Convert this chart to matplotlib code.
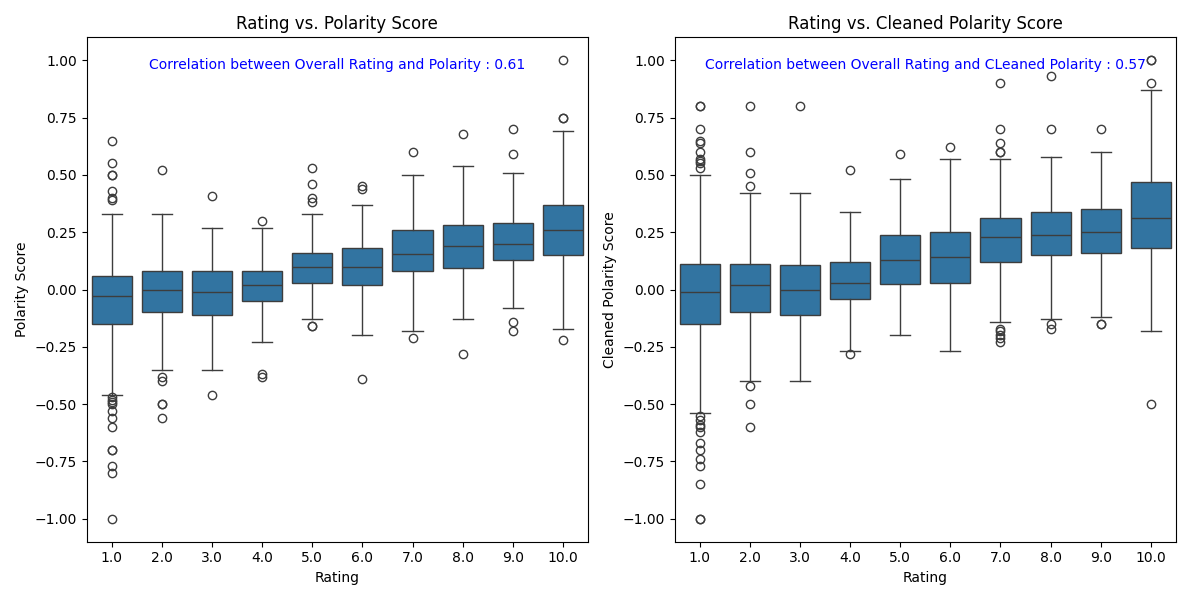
import matplotlib
matplotlib.use("Agg")
import matplotlib.pyplot as plt

ratings = ["1.0", "2.0", "3.0", "4.0", "5.0", "6.0", "7.0", "8.0", "9.0", "10.0"]

# left panel: polarity score (q1, median, q3, whisker low, whisker high)
pol_q1 = [-0.15, -0.10, -0.11, -0.05, 0.03, 0.02, 0.08, 0.095, 0.13, 0.15]
pol_med = [-0.03, 0.0, -0.01, 0.02, 0.10, 0.10, 0.155, 0.19, 0.20, 0.26]
pol_q3 = [0.06, 0.08, 0.08, 0.08, 0.16, 0.18, 0.26, 0.28, 0.29, 0.37]
pol_lo = [-0.46, -0.35, -0.35, -0.23, -0.13, -0.20, -0.18, -0.13, -0.08, -0.17]
pol_hi = [0.33, 0.33, 0.27, 0.27, 0.33, 0.37, 0.50, 0.54, 0.51, 0.69]
pol_fliers = [
    [0.65, 0.55, 0.50, 0.50, 0.43, 0.40, 0.39, -0.47, -0.48, -0.49, -0.50,
     -0.53, -0.56, -0.60, -0.70, -0.70, -0.77, -0.80, -1.00],
    [0.52, -0.38, -0.40, -0.50, -0.50, -0.56],
    [0.41, -0.46],
    [0.30, -0.37, -0.38],
    [0.53, 0.46, 0.40, 0.38, -0.16, -0.16],
    [0.45, 0.44, -0.39],
    [0.60, -0.21],
    [0.68, -0.28],
    [0.70, 0.59, -0.14, -0.18],
    [1.00, 0.75, 0.75, -0.22],
]

# right panel: cleaned polarity score
cl_q1 = [-0.15, -0.10, -0.11, -0.04, 0.025, 0.03, 0.12, 0.15, 0.16, 0.18]
cl_med = [-0.01, 0.02, 0.0, 0.03, 0.13, 0.14, 0.23, 0.24, 0.25, 0.31]
cl_q3 = [0.11, 0.11, 0.105, 0.12, 0.24, 0.25, 0.31, 0.34, 0.35, 0.47]
cl_lo = [-0.54, -0.40, -0.40, -0.27, -0.20, -0.27, -0.14, -0.13, -0.12, -0.18]
cl_hi = [0.50, 0.42, 0.42, 0.34, 0.48, 0.57, 0.57, 0.58, 0.60, 0.87]
cl_fliers = [
    [0.80, 0.80, 0.70, 0.65, 0.64, 0.60, 0.57, 0.56, 0.55, 0.53, -0.55, -0.57,
     -0.59, -0.60, -0.62, -0.67, -0.70, -0.74, -0.77, -0.85, -1.00, -1.00],
    [0.80, 0.60, 0.51, 0.45, -0.42, -0.50, -0.60],
    [0.80],
    [0.52, -0.28],
    [0.59],
    [0.62],
    [0.90, 0.70, 0.64, 0.60, 0.60, -0.17, -0.18, -0.20, -0.21, -0.23],
    [0.93, 0.70, -0.15, -0.17],
    [0.70, -0.15, -0.15],
    [1.00, 1.00, 0.90, -0.50],
]

box_color = "#3274a1"
line_color = "#3d3d3d"


def draw(ax, q1, med, q3, lo, hi, fliers, title, ylabel, note):
    stats = []
    for i in range(len(ratings)):
        stats.append(dict(q1=q1[i], med=med[i], q3=q3[i], whislo=lo[i],
                          whishi=hi[i], fliers=fliers[i], label=ratings[i]))
    ax.bxp(stats, positions=range(len(ratings)), widths=0.8, patch_artist=True,
           boxprops=dict(facecolor=box_color, edgecolor=line_color, linewidth=1),
           medianprops=dict(color=line_color, linewidth=1),
           whiskerprops=dict(color=line_color, linewidth=1),
           capprops=dict(color=line_color, linewidth=1),
           flierprops=dict(marker="o", markerfacecolor="none",
                           markeredgecolor=line_color, markersize=6))
    ax.set_xlim(-0.5, len(ratings) - 0.5)
    ax.set_ylim(-1.1, 1.1)
    ax.set_yticks([-1.0, -0.75, -0.5, -0.25, 0.0, 0.25, 0.5, 0.75, 1.0])
    ax.set_title(title)
    ax.set_xlabel("Rating")
    ax.set_ylabel(ylabel)
    ax.text(4.5, 0.98, note, color="blue", ha="center", va="center")


fig, (ax1, ax2) = plt.subplots(1, 2, figsize=(12, 6), dpi=100)
draw(ax1, pol_q1, pol_med, pol_q3, pol_lo, pol_hi, pol_fliers,
     "Rating vs. Polarity Score", "Polarity Score",
     "Correlation between Overall Rating and Polarity : 0.61")
draw(ax2, cl_q1, cl_med, cl_q3, cl_lo, cl_hi, cl_fliers,
     "Rating vs. Cleaned Polarity Score", "Cleaned Polarity Score",
     "Correlation between Overall Rating and CLeaned Polarity : 0.57")
plt.tight_layout()
plt.savefig("out.png")
